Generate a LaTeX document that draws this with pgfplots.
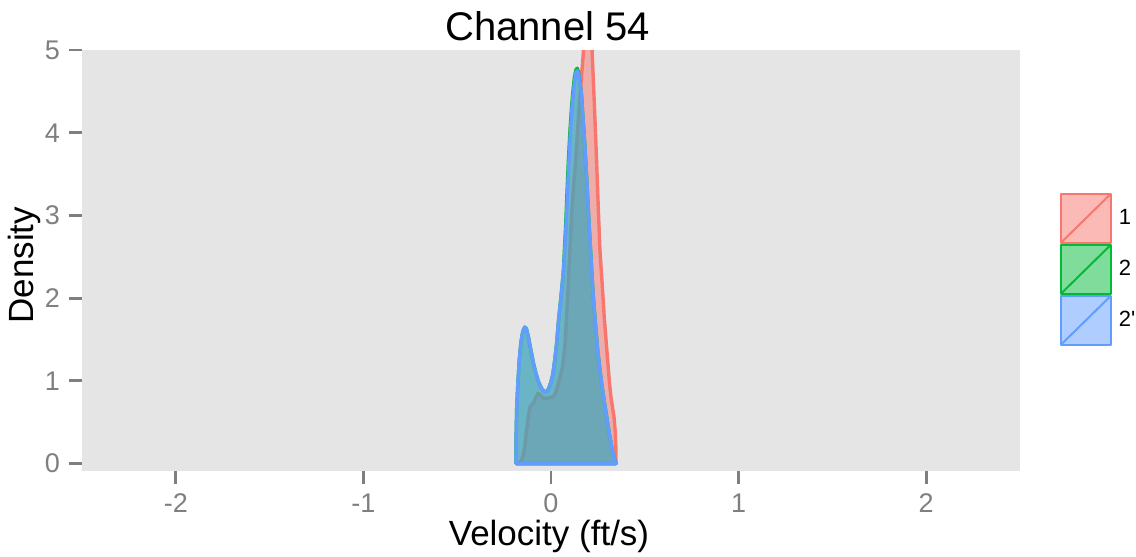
\documentclass[border=0pt]{standalone}
\usepackage{pgfplots}
\pgfplotsset{compat=1.18}
\usepackage{fontspec}
\setmainfont{Liberation Sans}
\definecolor{panel}{HTML}{E5E5E5}
\definecolor{ggA}{HTML}{F8766D}
\definecolor{ggB}{HTML}{00BA38}
\definecolor{ggC}{HTML}{619CFF}
\definecolor{tickgray}{HTML}{7F7F7F}
\begin{document}
\begin{tikzpicture}
\begin{axis}[
  scale only axis, width=469pt, height=210.5pt,
  xmin=-2.5, xmax=2.5, ymin=-0.09, ymax=5,
  axis background/.style={fill=panel},
  axis line style={draw=none},
  xtick={-2,-1,0,1,2}, xticklabels={-2,-1,0,1,2},
  ytick={0,1,2,3,4,5}, yticklabels={0,1,2,3,4,5},
  tick align=outside, tick pos=left,
  major tick length=6.3pt,
  tick style={tickgray, line width=1.4pt},
  /pgf/number format/assume math mode=true,
  ticklabel style={font=\fontsize{13.5}{15}\selectfont, text=tickgray, inner sep=0pt},
  xticklabel shift=5pt, yticklabel shift=4.5pt,
  title={Channel 54},
  title style={at={(axis description cs:0.4963,1)}, anchor=base, yshift=-1pt, inner sep=0pt, font=\fontsize{20}{22}\selectfont},
  xlabel={Velocity (ft/s)},
  xlabel style={at={(axis description cs:0.4979,0)}, anchor=base, yshift=-37pt, inner sep=0pt, font=\fontsize{17.5}{20}\selectfont},
  ylabel={Density},
  ylabel style={at={(axis description cs:-0.0522,0.489)}, anchor=base, inner sep=0pt, font=\fontsize{17.5}{20}\selectfont},
  clip mode=individual,
  legend image code/.code={
    \draw[#1, line width=1pt] (0pt,-12.25pt) rectangle (25pt,12.25pt);
    \draw[#1, line width=1pt, fill=none] (0pt,-12.25pt) -- (25pt,12.25pt);
  },
  legend style={at={(axis description cs:1.0426,0.661)}, anchor=north west,
    draw=none, fill=none, inner sep=0pt, outer sep=0pt, row sep=0pt, column sep=3.5pt,
    nodes={inner sep=0pt, font=\fontsize{11}{12}\selectfont}},
  legend cell align=left,
]
\addplot[draw=ggA, fill=ggA, fill opacity=0.5, line width=1.7pt, line join=round] coordinates {
(-0.186,0) (-0.170,0.01) (-0.160,0.03) (-0.150,0.08) (-0.140,0.20) (-0.130,0.40)
(-0.120,0.58) (-0.112,0.68) (-0.100,0.72) (-0.090,0.74) (-0.080,0.80) (-0.068,0.85)
(-0.055,0.82) (-0.040,0.79) (-0.020,0.79) (0.000,0.80) (0.015,0.81) (0.030,0.89)
(0.045,1.02) (0.062,1.17) (0.075,1.45) (0.083,1.77) (0.092,2.15) (0.101,2.58)
(0.110,3.00) (0.120,3.35) (0.130,3.60) (0.137,3.85) (0.150,4.30) (0.165,4.75)
(0.172,4.95) (0.185,5.40) (0.197,5.60) (0.210,5.40) (0.220,4.95) (0.232,4.30)
(0.243,3.67) (0.252,3.10) (0.261,2.58) (0.275,2.10) (0.284,1.77) (0.295,1.45)
(0.305,1.17) (0.312,0.97) (0.320,0.80) (0.328,0.68) (0.336,0.565) (0.342,0.40)
(0.346,0.20) (0.347,0)
} -- cycle;
\addlegendentry{1}
\addplot[draw=ggB, fill=ggB, fill opacity=0.5, line width=1.7pt, line join=round] coordinates {
(-0.186,0) (-0.186,0.30) (-0.183,0.65) (-0.177,0.95) (-0.169,1.25) (-0.160,1.47)
(-0.150,1.60) (-0.140,1.65) (-0.131,1.63) (-0.121,1.54) (-0.108,1.38) (-0.094,1.22)
(-0.080,1.09) (-0.065,0.98) (-0.050,0.91) (-0.035,0.87) (-0.022,0.87) (-0.010,0.92)
(0.000,0.99) (0.010,1.08) (0.020,1.25) (0.030,1.45) (0.039,1.70) (0.048,1.90)
(0.057,2.10) (0.066,2.32) (0.072,2.60) (0.078,2.86) (0.085,3.25) (0.093,3.67)
(0.102,4.05) (0.110,4.32) (0.117,4.50) (0.125,4.67) (0.133,4.76) (0.140,4.78)
(0.146,4.74) (0.152,4.66) (0.158,4.55) (0.163,4.45) (0.170,4.20) (0.178,3.93)
(0.185,3.67) (0.195,3.25) (0.204,2.86) (0.213,2.50) (0.223,2.10) (0.234,1.77)
(0.249,1.37) (0.260,1.15) (0.270,0.97) (0.284,0.75) (0.297,0.565) (0.312,0.35)
(0.327,0.16) (0.338,0.06) (0.346,0)
} -- cycle;
\addlegendentry{2}
\addplot[draw=ggC, fill=ggC, fill opacity=0.5, line width=1.7pt, line join=round] coordinates {
(-0.186,0) (-0.186,0.30) (-0.183,0.65) (-0.177,0.95) (-0.169,1.25) (-0.160,1.47)
(-0.150,1.60) (-0.140,1.65) (-0.131,1.63) (-0.121,1.54) (-0.108,1.38) (-0.094,1.22)
(-0.080,1.09) (-0.065,0.98) (-0.050,0.91) (-0.035,0.87) (-0.022,0.87) (-0.010,0.92)
(0.000,0.99) (0.010,1.08) (0.020,1.25) (0.030,1.45) (0.039,1.70) (0.048,1.90)
(0.057,2.10) (0.066,2.32) (0.074,2.60) (0.080,2.86) (0.088,3.25) (0.096,3.67)
(0.105,4.05) (0.112,4.30) (0.119,4.47) (0.127,4.64) (0.134,4.73) (0.140,4.75)
(0.146,4.72) (0.152,4.65) (0.158,4.55) (0.163,4.45) (0.170,4.20) (0.178,3.93)
(0.185,3.67) (0.195,3.25) (0.204,2.86) (0.213,2.50) (0.223,2.10) (0.234,1.77)
(0.249,1.37) (0.260,1.15) (0.270,0.97) (0.284,0.75) (0.297,0.565) (0.312,0.35)
(0.327,0.16) (0.338,0.06) (0.346,0)
} -- cycle;
\addlegendentry{2\textquotesingle}
\path (axis description cs:-0.0874,-0.2019) rectangle (axis description cs:1.1237,1.1188);
\end{axis}
\end{tikzpicture}
\end{document}
